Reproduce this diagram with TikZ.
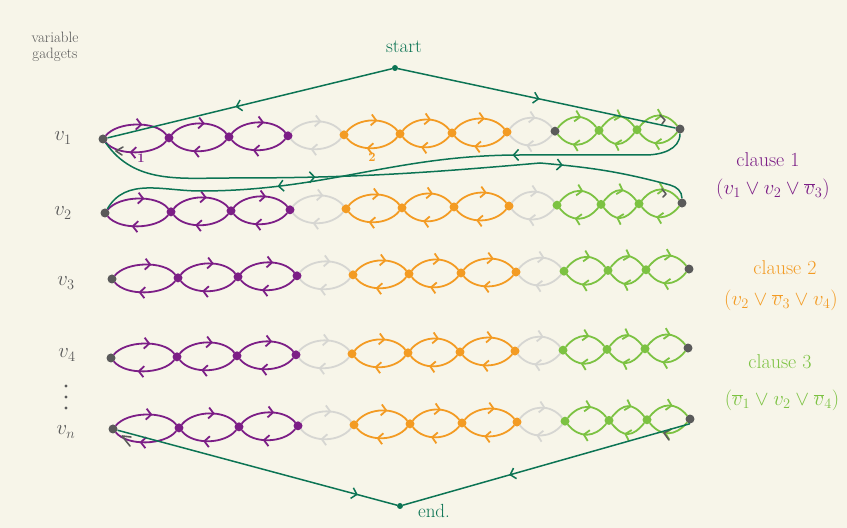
\documentclass[tikz,border=0pt]{standalone}
\usepackage{fontspec}
\usetikzlibrary{arrows.meta,decorations.markings}
\definecolor{paper}{RGB}{247,245,233}
\definecolor{gpurple}{RGB}{124,30,134}
\definecolor{gorange}{RGB}{243,155,35}
\definecolor{ggreen}{RGB}{124,194,66}
\definecolor{glight}{RGB}{214,214,210}
\definecolor{gdark}{RGB}{90,90,90}
\definecolor{route}{RGB}{12,116,84}
\tikzset{
  dot/.style={circle,inner sep=0pt,minimum size=9pt},
  arrowat/.style={postaction={decorate,decoration={markings,
      mark=at position #1 with {\arrow{Straight Barb[length=5pt,width=11pt]}}}}},
  gadget/.style={line width=1.8pt,line cap=round,arrowat=0.6},
  road/.style={route,line width=1.5pt},
  tick/.style={gdark,line width=1.6pt,line cap=round,line join=round},
  hand/.style={font=\fontsize{20}{24}\selectfont},
}
\begin{document}
\begin{tikzpicture}[x=1pt,y=1pt]
  \useasboundingbox (0,0) rectangle (847,528);
  \fill[paper] (0,0) rectangle (847,528);

  % the five variable gadgets
  \foreach \r/\dx/\y/\g in {1/0/389/gdark,2/2/315/ggreen,3/9/249/ggreen,4/8/170/ggreen,5/10/99/ggreen}{
    \foreach \x/\c [count=\i from 0] in {103/gdark,169/gpurple,229/gpurple,288/gpurple,344/gorange,400/gorange,452/gorange,507/gorange,555/\g,599/ggreen,637/ggreen,680/gdark}
      \node[dot,fill=\c] (r\r n\i) at ({\x+\dx},{\y+0.0173*(\x-103)}) {};
    \foreach \c [count=\i, evaluate=\i as \j using int(\i-1)] in {gpurple,gpurple,gpurple,glight,gorange,gorange,gorange,glight,ggreen,ggreen,ggreen}{
      \draw[gadget,color=\c] (r\r n\j) to[out=50,in=130,distance=18pt] (r\r n\i);
      \draw[gadget,color=\c] (r\r n\i) to[out=-130,in=-50,distance=18pt] (r\r n\j);
    }
  }
  \draw[tick] (123,381) -- (116,377) -- (122,373);
  \draw[tick] (660,413) -- (665,408) -- (662,404);
  \draw[tick] (662,339) -- (666,334) -- (663,331);
  \draw[tick] (131,91) -- (122,92) -- (130,82);
  \draw[tick] (671,99) -- (664,95) -- (669,88);

  % route
  \node[dot,fill=route,minimum size=6pt] (start) at (395,460) {};
  \node[dot,fill=route,minimum size=6pt] (end) at (400,22) {};
  \node[route,font=\fontsize{19}{21}\selectfont] (startlbl) at (404,481) {start};
  \node[route,font=\fontsize{19}{21}\selectfont] (endlbl) at (434,17) {end.};
  \draw[road,arrowat=0.55] (start) -- (r1n0);
  \draw[road,arrowat=0.51] (start) -- (r1n11);
  \draw[road,arrowat=0.37,arrowat=0.785] (r1n0) to[out=-55,in=180] (230,350) to[out=0,in=185] (540,365)
    to[out=-5,in=165] (670,343) to[out=-15,in=90] (r2n11);
  \draw[road,arrowat=0.3,arrowat=0.7] (r1n11) to[out=-90,in=0] (645,373) -- (520,373)
    to[out=180,in=0] (200,337) to[out=180,in=60] (r2n0);
  \draw[road,arrowat=0.86] (r5n0) -- (end);
  \draw[road,arrowat=0.63] (r5n11.south) -- (end);

  % labels
  \node[gdark,align=center,font=\fontsize{15}{16}\selectfont] (gadgets) at (55,481) {variable\\gadgets};
  \node[gdark,hand] (lv1) at (63,390) {$v_1$};
  \node[gdark,hand] (lv2) at (63,315) {$v_2$};
  \node[gdark,hand] (lv3) at (66,245) {$v_3$};
  \node[gdark,hand] (lv4) at (67,173) {$v_4$};
  \foreach \y in {142,131,120}
    \fill[gdark] (66,\y) circle (1.7pt);
  \node[gdark,hand] (lvn) at (66,96) {$v_n$};
  \node[gpurple,font=\bfseries\fontsize{13}{14}\selectfont] (one) at (141,370) {1};
  \node[gorange,font=\bfseries\fontsize{13}{14}\selectfont] (two) at (372,371) {2};

  \node[gpurple,hand] (c1) at (768,368) {clause 1};
  \node[gpurple,hand] (f1) at (773,339) {$(v_1\vee v_2\vee\overline{v}_3)$};
  \node[gorange,hand] (c2) at (785,260) {clause 2};
  \node[gorange,hand] (f2) at (781,228) {$(v_2\vee\overline{v}_3\vee v_4)$};
  \node[ggreen,hand] (c3) at (780,166) {clause 3};
  \node[ggreen,hand] (f3) at (782,128) {$(\overline{v}_1\vee v_2\vee\overline{v}_4)$};
\end{tikzpicture}
\end{document}
